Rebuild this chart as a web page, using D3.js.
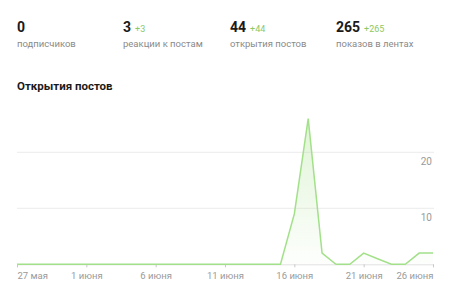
<!DOCTYPE html>
<html>
<head>
<meta charset="utf-8">
<script src="https://cdn.jsdelivr.net/npm/d3@7"></script>
<style>
  body { margin: 0; background: #fff; font-family: Roboto, "Noto Sans", sans-serif; }
</style>
</head>
<body>
<div id="chart"></div>
<script>
// top stats
const statValues = ["0", "3", "44", "265"];
const statDeltas = ["", "+3", "+44", "+265"];
const statLabels = ["подписчиков", "реакции к постам", "открытия постов", "показов в лентах"];

// daily post opens, 27 May .. 26 June
const startDate = new Date(2024, 4, 27);
const opens = [0, 0, 0, 0, 0, 0, 0, 0, 0, 0,
               0, 0, 0, 0, 0, 0, 0, 0, 0, 0,
               9, 26, 2, 0, 0, 2, 1, 0, 0, 2, 2];
const yTicks = [10, 20];
const xTickDays = [0, 5, 10, 15, 20, 25, 30];
const monthNames = ["января", "февраля", "марта", "апреля", "мая", "июня", "июля", "августа", "сентября", "октября", "ноября", "декабря"];

const data = opens.map((v, i) => ({ date: d3.timeDay.offset(startDate, i), value: v }));

const W = 450, H = 289;
const svg = d3.select("#chart").append("svg")
    .attr("width", W).attr("height", H);

// stats row
const statX = [17, 123, 230, 336];
statValues.forEach((v, i) => {
    const t = svg.append("text")
        .attr("x", statX[i]).attr("y", 32)
        .style("font-size", "14px").style("font-weight", "700").style("fill", "#1a1a1a")
        .text(v);
    if (statDeltas[i]) {
        const w = t.node().getComputedTextLength();
        svg.append("text")
            .attr("x", statX[i] + w + 4).attr("y", 32)
            .style("font-size", "9px").style("fill", "#8cc864")
            .text(statDeltas[i]);
    }
    svg.append("text")
        .attr("x", statX[i]).attr("y", 47)
        .style("font-size", "9.5px").style("fill", "#8a8a8a")
        .text(statLabels[i]);
});

// title
svg.append("text")
    .attr("x", 17).attr("y", 90)
    .style("font-size", "11.5px").style("font-weight", "700").style("fill", "#1a1a1a")
    .text("Открытия постов");

// scales
const x = d3.scaleTime()
    .domain([data[0].date, data[data.length - 1].date])
    .range([17, 433]);
const y = d3.scaleLinear()
    .domain([0, 10])
    .range([264.3, 208.3]);

// gridlines
svg.selectAll(".grid")
    .data(yTicks)
    .join("line")
    .attr("x1", 17).attr("x2", 434)
    .attr("y1", d => y(d)).attr("y2", d => y(d))
    .attr("stroke", "#ececec").attr("stroke-width", 1);

svg.selectAll(".ylab")
    .data(yTicks)
    .join("text")
    .attr("x", 432).attr("y", d => y(d) + 13)
    .attr("text-anchor", "end")
    .style("font-size", "10px").style("fill", "#9a9a9a")
    .text(d => d);

// area gradient
const grad = svg.append("defs").append("linearGradient")
    .attr("id", "fillGrad").attr("x1", 0).attr("y1", 0).attr("x2", 0).attr("y2", 1);
grad.append("stop").attr("offset", "0%").attr("stop-color", "#a5e08a").attr("stop-opacity", 0.35);
grad.append("stop").attr("offset", "100%").attr("stop-color", "#a5e08a").attr("stop-opacity", 0.02);

svg.append("path")
    .datum(data)
    .attr("fill", "url(#fillGrad)")
    .attr("d", d3.area().x(d => x(d.date)).y0(y(0)).y1(d => y(d.value)));

// x axis
const tickDates = xTickDays.map(d => d3.timeDay.offset(startDate, d));
const xAxis = svg.append("g")
    .attr("transform", `translate(0, ${y(0)})`)
    .call(d3.axisBottom(x)
        .tickValues(tickDates)
        .tickSize(3)
        .tickFormat(d => d.getDate() + " " + monthNames[d.getMonth()]));
xAxis.select(".domain").attr("stroke", "#e2e2e2");
xAxis.selectAll(".tick line").attr("stroke", "#c8c8c8");
xAxis.selectAll(".tick text")
    .attr("y", 8)
    .style("font-family", "Roboto, sans-serif")
    .style("font-size", "9.5px")
    .style("fill", "#9a9a9a")
    .attr("text-anchor", (d, i) => i === 0 ? "start" : (i === xTickDays.length - 1 ? "end" : "middle"));

// line
svg.append("path")
    .datum(data)
    .attr("fill", "none")
    .attr("stroke", "#a3e08a")
    .attr("stroke-width", 1.5)
    .attr("stroke-linejoin", "miter")
    .attr("d", d3.line().x(d => x(d.date)).y(d => y(d.value)));
</script>
</body>
</html>
